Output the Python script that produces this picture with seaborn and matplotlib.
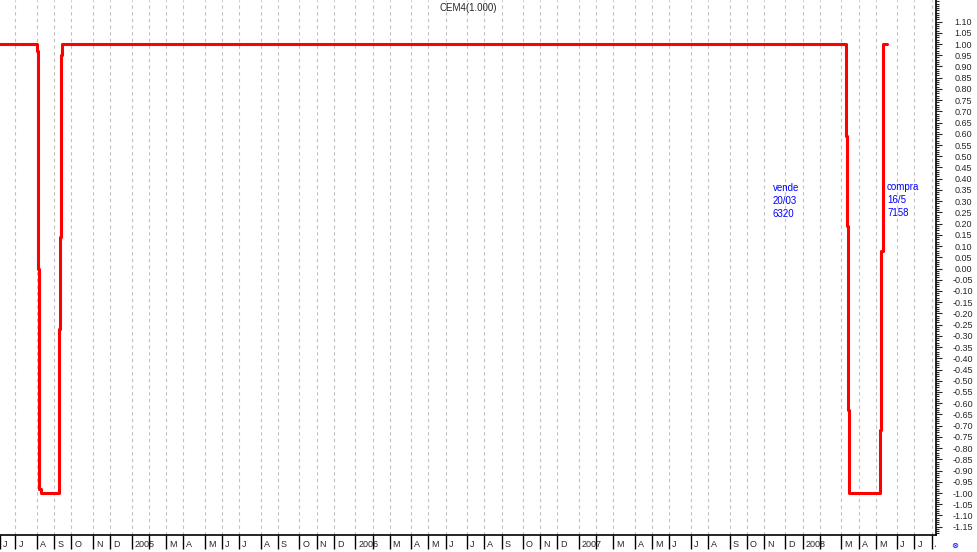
import numpy as np
import pandas as pd
import seaborn as sns
import matplotlib.pyplot as plt
from matplotlib.ticker import MultipleLocator, NullLocator
from matplotlib.transforms import ScaledTranslation, Bbox, TransformedBbox

# indicator values
dates = ['2004-06-06 19:00', '2004-08-05', '2004-08-06', '2004-08-07', '2004-08-08',
         '2004-08-09', '2004-08-10', '2004-08-12',
         '2004-09-09', '2004-09-10', '2004-09-12', '2004-09-14', '2004-09-16',
         '2008-03-13', '2008-03-14', '2008-03-16', '2008-03-18', '2008-03-20',
         '2008-05-08', '2008-05-09', '2008-05-10', '2008-05-13', '2008-05-14', '2008-05-21']
values = [1.0, 1.0, 0.97, 0.48, 0.0, -0.49, -0.98, -1.0,
          -1.0, -0.27, 0.14, 0.95, 1.0,
          1.0, 0.59, 0.19, -0.63, -1.0,
          -1.0, -0.72, 0.08, 0.90, 1.0, 1.0]

title = 'CEM4(1.000)'
note_sell = ['vende', '20/03', '6320']
note_buy = ['compra', '16/5', '7158']
month_letters = 'JFMAMJJASOND'
x_start, x_end = pd.Timestamp('2004-06-06 19:00'), pd.Timestamp('2008-08-08')

df = pd.DataFrame({'date': pd.to_datetime(dates, format='ISO8601'), 'value': values})

sns.set_style('white')
plt.rcParams['font.family'] = ['Liberation Sans', 'DejaVu Sans']

fig = plt.figure(figsize=(9.78, 5.52), dpi=100)
ax = fig.add_axes([0, 1 - 535 / 552, 936 / 978, 535 / 552])

# month ticks at the first weekly bar (Friday) of each month
months = pd.date_range('2004-06-01', '2008-08-31', freq='WOM-1FRI')
month_ticks = [x_start] + list(months[1:])
month_labels = []
for d in months:
    if d.month == 1:
        month_labels.append(str(d.year))
    elif d.month == 2:
        month_labels.append('')
    else:
        month_labels.append(month_letters[d.month - 1])

sns.lineplot(data=df, x='date', y='value', color='#ff0000', linewidth=2.2,
             drawstyle='steps-post', ax=ax, zorder=3)

ax.vlines(month_ticks[1:], -1.187, 1.196, colors='#c0c0c0', linestyles=(0, (3, 3)),
          linewidth=0.8, zorder=0)

ax.set_xlim(x_start, x_end)
ax.set_ylim(-1.187, 1.196)
ax.set_xlabel('')
ax.set_ylabel('')
ax.grid(False)

ax.set_xticks(month_ticks)
ax.set_xticklabels(month_labels, fontsize=6.5)
ax.xaxis.set_minor_locator(NullLocator())
ax.tick_params(axis='x', bottom=True, direction='out', length=10, width=1,
               pad=-6.6, color='black')
shift = ScaledTranslation(3 / 100, 0, fig.dpi_scale_trans)
clip = TransformedBbox(Bbox([[0, -1], [1, 1]]), ax.transAxes)
for lbl in ax.get_xticklabels():
    lbl.set_horizontalalignment('left')
    lbl.set_transform(lbl.get_transform() + shift)
    lbl.set_clip_box(clip)
    lbl.set_clip_on(True)

# right value axis
yt = np.round(np.arange(-1.15, 1.1001, 0.05), 2)
ax.yaxis.tick_right()
ax.set_yticks(yt)
ax.set_yticklabels(['%.2f' % (v if abs(v) > 1e-9 else 0.0) for v in yt], fontsize=6.5)
ax.yaxis.set_minor_locator(MultipleLocator(0.01))
ax.tick_params(axis='y', which='major', right=True, direction='out', length=4.3,
               width=0.8, pad=15.2)
ax.tick_params(axis='y', which='minor', right=True, direction='out', length=2.2, width=0.8)
for lbl in ax.get_yticklabels():
    lbl.set_horizontalalignment('center')

for side in ['top', 'left']:
    ax.spines[side].set_visible(False)
for side in ['right', 'bottom']:
    ax.spines[side].set_color('black')
    ax.spines[side].set_linewidth(1.2)

fig.text(468 / 978, 1 - 8 / 552, title, ha='center', va='center', fontsize=7)
ax.text(773 / 936, 1 - 183 / 535, '\n'.join(note_sell), transform=ax.transAxes,
        color='#0000ff', fontsize=7, va='top', ha='left', linespacing=1.35)
ax.text(887 / 936, 1 - 182 / 535, '\n'.join(note_buy), transform=ax.transAxes,
        color='#0000ff', fontsize=7, va='top', ha='left', linespacing=1.35)
fig.text(955 / 978, 1 - 545 / 552, '\u2297', color='#0000ff', fontsize=6,
         ha='center', va='center', family='DejaVu Sans')

fig.savefig('out.png', dpi=100)
